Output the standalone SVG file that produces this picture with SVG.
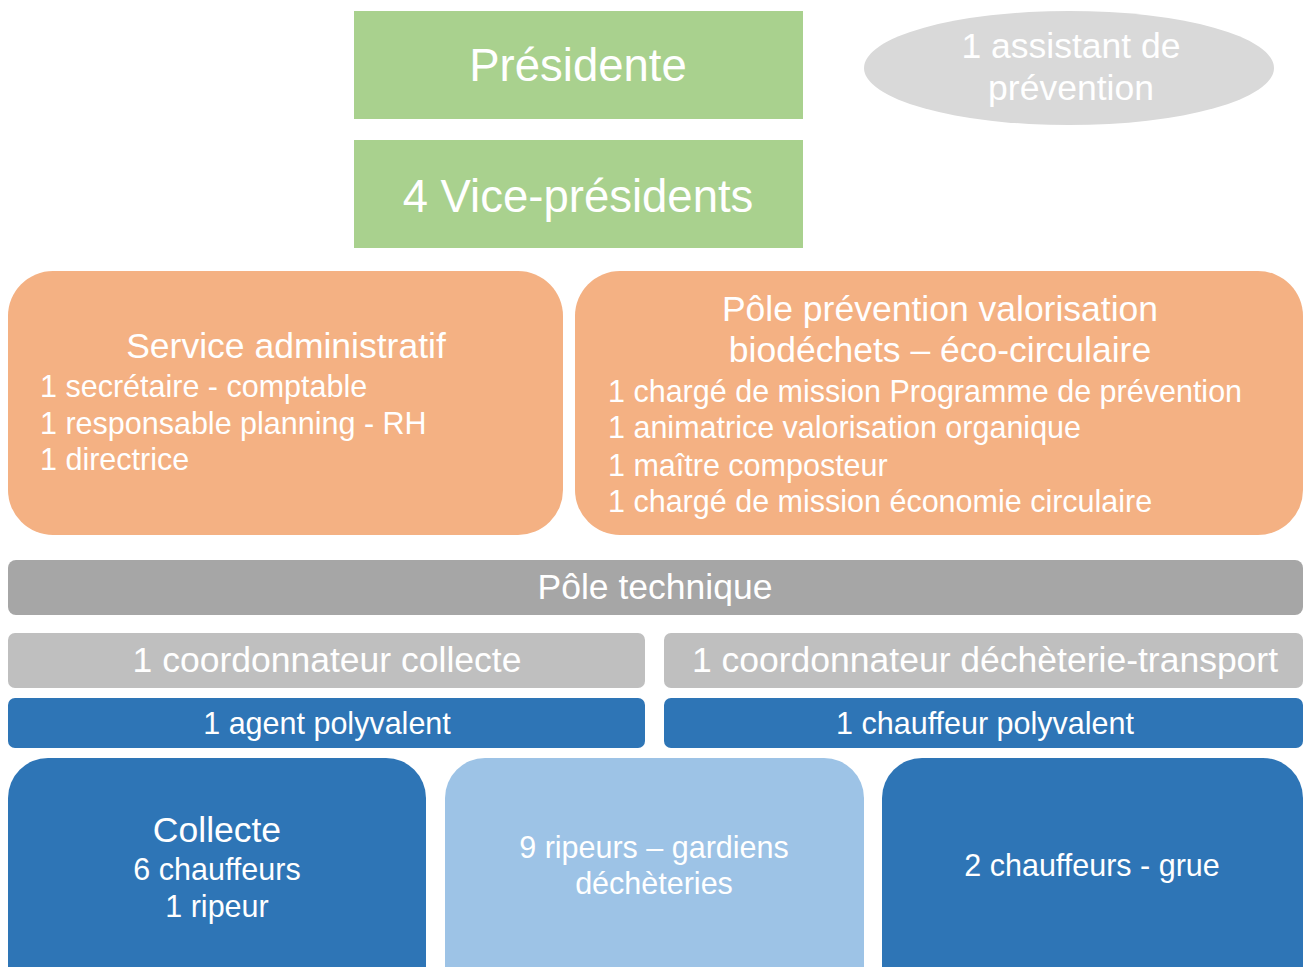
<svg xmlns="http://www.w3.org/2000/svg" width="1305" height="967" viewBox="0 0 1305 967">
<style>
text{font-family:"Liberation Sans",Arial,sans-serif;fill:#ffffff}
.c{text-anchor:middle}
.green{fill:#a9d18e}
.orange{fill:#f4b183}
.g1{fill:#a6a6a6}
.g2{fill:#bfbfbf}
.blue{fill:#2e75b6}
.lblue{fill:#9dc3e6}
.t45{font-size:45.5px}
.t35{font-size:35.5px}
.t30{font-size:30.5px}
</style>
<rect width="1305" height="967" fill="#ffffff"/>
<g id="presidente">
<rect class="green" x="354" y="11" width="449" height="108"/>
<text class="c t45" x="578" y="81">Présidente</text>
</g>
<g id="vice-presidents">
<rect class="green" x="354" y="140" width="449" height="108"/>
<text class="c t45" x="578" y="212">4 Vice-présidents</text>
</g>
<g id="assistant">
<ellipse cx="1069" cy="68" rx="205" ry="57" fill="#d9d9d9"/>
<text class="c t35" x="1071" y="58">1 assistant de</text>
<text class="c t35" x="1071" y="100">prévention</text>
</g>
<g id="service-administratif">
<rect class="orange" x="8" y="271" width="555" height="264" rx="45"/>
<text class="c t35" x="286" y="358">Service administratif</text>
<text class="t30" x="40" y="397">1 secrétaire - comptable</text>
<text class="t30" x="40" y="434">1 responsable planning - RH</text>
<text class="t30" x="40" y="470">1 directrice</text>
</g>
<g id="pole-prevention">
<rect class="orange" x="575" y="271" width="728" height="264" rx="45"/>
<text class="c t35" x="940" y="321">Pôle prévention valorisation</text>
<text class="c t35" x="940" y="362">biodéchets – éco-circulaire</text>
<text class="t30" x="608" y="402">1 chargé de mission Programme de prévention</text>
<text class="t30" x="608" y="438">1 animatrice valorisation organique</text>
<text class="t30" x="608" y="476">1 maître composteur</text>
<text class="t30" x="608" y="512">1 chargé de mission économie circulaire</text>
</g>
<g id="pole-technique">
<rect class="g1" x="8" y="560" width="1295" height="55" rx="8"/>
<text class="c t35" x="655" y="599">Pôle technique</text>
</g>
<g id="coord-collecte">
<rect class="g2" x="8" y="633" width="637" height="55" rx="7"/>
<text class="c t35" x="327" y="672">1 coordonnateur collecte</text>
</g>
<g id="coord-decheterie">
<rect class="g2" x="664" y="633" width="639" height="55" rx="7"/>
<text class="c t35" x="985" y="672">1 coordonnateur déchèterie-transport</text>
</g>
<g id="agent-polyvalent">
<rect class="blue" x="8" y="698" width="637" height="50" rx="7"/>
<text class="c t30" x="327" y="734">1 agent polyvalent</text>
</g>
<g id="chauffeur-polyvalent">
<rect class="blue" x="664" y="698" width="639" height="50" rx="7"/>
<text class="c t30" x="985" y="734">1 chauffeur polyvalent</text>
</g>
<g id="collecte">
<rect class="blue" x="8" y="758" width="418" height="260" rx="40"/>
<text class="c t35" x="217" y="842">Collecte</text>
<text class="c t30" x="217" y="880">6 chauffeurs</text>
<text class="c t30" x="217" y="917">1 ripeur</text>
</g>
<g id="ripeurs-gardiens">
<rect class="lblue" x="445" y="758" width="419" height="260" rx="40"/>
<text class="c t30" x="654" y="858">9 ripeurs – gardiens</text>
<text class="c t30" x="654" y="894">déchèteries</text>
</g>
<g id="chauffeurs-grue">
<rect class="blue" x="882" y="758" width="421" height="260" rx="40"/>
<text class="c t30" x="1092" y="876">2 chauffeurs - grue</text>
</g>
<g id="connectors"></g>
</svg>
